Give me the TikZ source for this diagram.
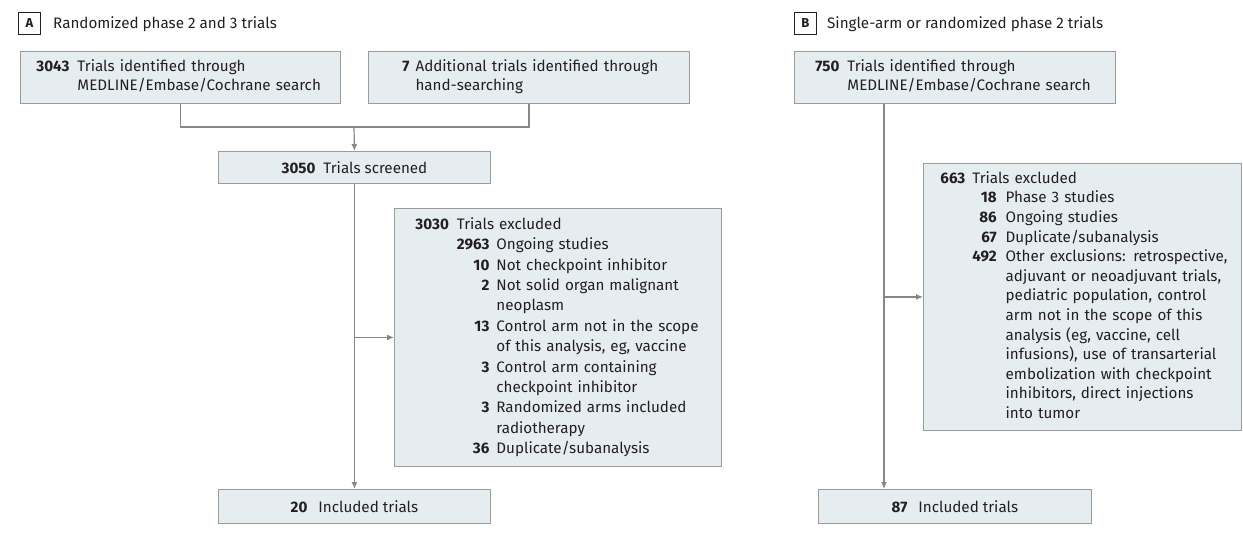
\documentclass[tikz,border=0pt]{standalone}
\usepackage{fontspec}
\setmainfont{Fira Sans}
\usepackage{array}
\usetikzlibrary{arrows.meta}
\definecolor{boxfill}{RGB}{230,237,241}
\definecolor{boxline}{RGB}{155,155,155}
\definecolor{linkgray}{RGB}{135,135,135}
\definecolor{inkdark}{RGB}{35,31,32}
\newcommand{\flowsize}{\fontsize{15.2bp}{19bp}\selectfont}
\tikzstyle{block} = [draw=boxline, fill=boxfill, line width=0.9bp, rectangle, inner sep=0pt, anchor=north west, text=inkdark, align=left]
\tikzstyle{tag} = [draw=inkdark, line width=0.8bp, rectangle, inner sep=0pt, minimum size=22bp, anchor=north west, text=inkdark, font=\bfseries\fontsize{13bp}{15bp}\selectfont]
\tikzstyle{heading} = [anchor=west, inner sep=0pt, text=inkdark]
\tikzstyle{link} = [draw=linkgray, line width=1.2bp]

\begin{document}
\begin{tikzpicture}[x=1bp, y=-1bp, >={Latex[length=7bp,width=6bp]}, font=\flowsize]
    \useasboundingbox (0,0) rectangle (1243,542);
 % nodes
    \node [tag] (tagA) at (18,12) {A};
    \node [heading] (headA) at (53,24) {Randomized phase 2 and 3 trials};
    \node [tag] (tagB) at (794,12) {B};
    \node [heading] (headB) at (827,24) {Single-arm or randomized phase 2 trials};
    \node [block, minimum height=52bp, text width=288bp, inner xsep=16bp] (srchA) at (20,51)
        {\begin{tabular}{@{}r@{\hspace{8bp}}l@{}}
         \textbf{3043} & Trials identified through\\
                       & MEDLINE/Embase/Cochrane search
         \end{tabular}};
    \node [block, minimum height=52bp, text width=253bp, inner xsep=34bp] (handA) at (368,51)
        {\begin{tabular}{@{}r@{\hspace{6bp}}l@{}}
         \textbf{7} & Additional trials identified through\\
                    & hand-searching
         \end{tabular}};
    \node [block, minimum width=272bp, minimum height=32bp] (scrA) at (218,151)
        {\textbf{3050}\hspace{8bp}Trials screened};
    \node [block, minimum height=258bp, text width=285bp, inner xsep=21bp, font=\fontsize{15.2bp}{20.4bp}\selectfont] (exclA) at (394,208)
        {\begin{tabular}{@{}r@{\hspace{8bp}}r@{\hspace{7bp}}l@{}}
         \textbf{3030} & \multicolumn{2}{@{}l@{}}{Trials excluded}\\
          & \textbf{2963} & Ongoing studies\\
          & \textbf{10} & Not checkpoint inhibitor\\
          & \textbf{2} & Not solid organ malignant\\
          & & neoplasm\\
          & \textbf{13} & Control arm not in the scope\\
          & & of this analysis, eg, vaccine\\
          & \textbf{3} & Control arm containing\\
          & & checkpoint inhibitor\\
          & \textbf{3} & Randomized arms included\\
          & & radiotherapy\\
          & \textbf{36} & Duplicate/subanalysis
         \end{tabular}};
    \node [block, minimum width=272bp, minimum height=34bp] (inclA) at (218,489)
        {\textbf{20}\hspace{11bp}Included trials};
    \node [block, minimum height=52bp, text width=279bp, inner xsep=21bp] (srchB) at (794,51)
        {\begin{tabular}{@{}r@{\hspace{8bp}}l@{}}
         \textbf{750} & Trials identified through\\
                      & MEDLINE/Embase/Cochrane search
         \end{tabular}};
    \node [block, minimum height=267bp, text width=284bp, inner xsep=17bp, font=\fontsize{15.2bp}{19.6bp}\selectfont] (exclB) at (923,163)
        {\begin{tabular}{@{}r@{\hspace{7bp}}r@{\hspace{9bp}}l@{}}
         \textbf{663} & \multicolumn{2}{@{}l@{}}{Trials excluded}\\
          & \textbf{18} & Phase 3 studies\\
          & \textbf{86} & Ongoing studies\\
          & \textbf{67} & Duplicate/subanalysis\\
          & \textbf{492} & Other exclusions: retrospective,\\
          & & adjuvant or neoadjuvant trials,\\
          & & pediatric population, control\\
          & & arm not in the scope of this\\
          & & analysis (eg, vaccine, cell\\
          & & infusions), use of transarterial\\
          & & embolization with checkpoint\\
          & & inhibitors, direct injections\\
          & & into tumor
         \end{tabular}};
    \node [block, minimum width=273bp, minimum height=34bp] (inclB) at (818,489)
        {\textbf{87}\hspace{11bp}Included trials};
    \coordinate (mergeA) at (354,127);
    \coordinate (spineB) at (884,300);
 % edges
    \draw [link] (srchA.south) |- (mergeA) -| (handA.south);
    \draw [link,->] (mergeA) -- (scrA.north);
    \draw [link,->] (scrA.south) -- (inclA.north);
    \draw [link,->] (scrA.south |- exclA.west) -- (exclA.west);
    \draw [link,->] (srchB.south -| spineB) -- (inclB.north -| spineB);
    \draw [link,->] (spineB |- exclB.west) -- (exclB.west);
\end{tikzpicture}
\end{document}
